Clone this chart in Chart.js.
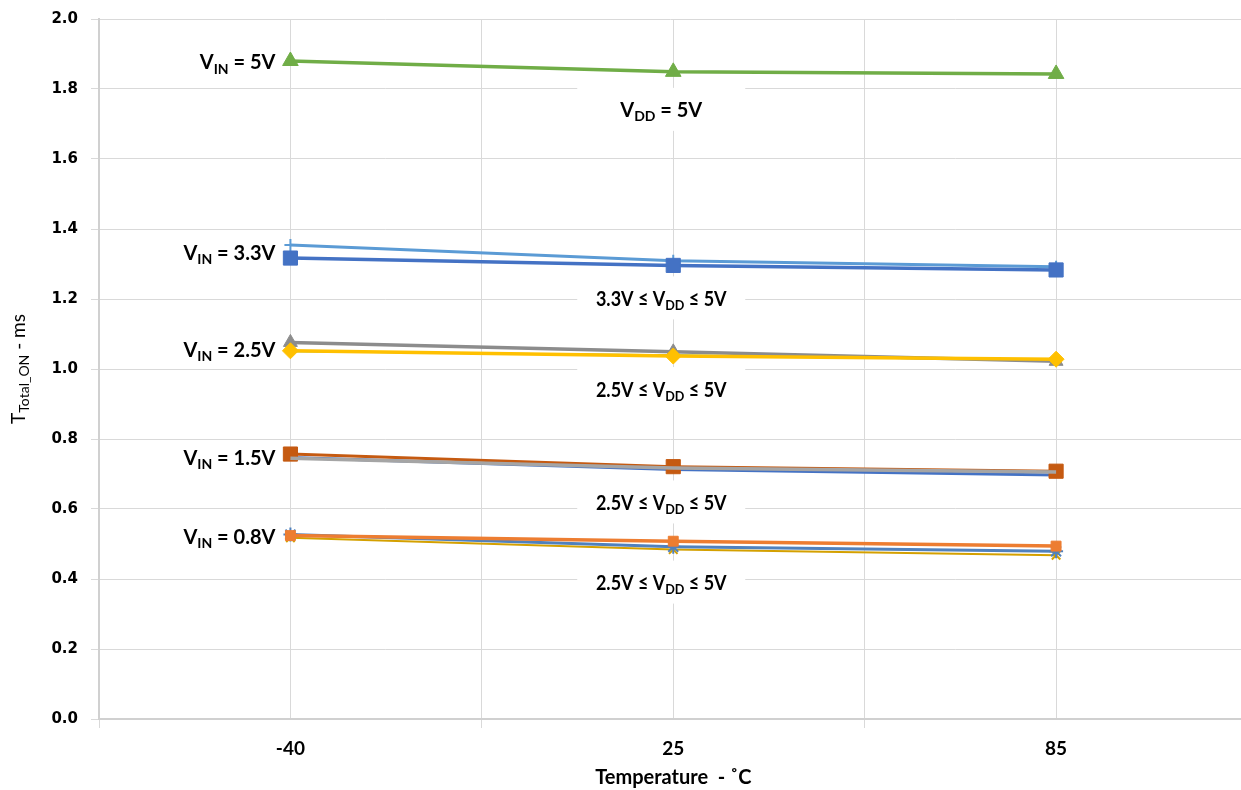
<!DOCTYPE html>
<html><head><meta charset="utf-8">
<script src="https://cdn.jsdelivr.net/npm/chart.js@4"></script>
<style>html,body{margin:0;padding:0;background:#fff}#wrap{width:1241px;height:790px;position:relative}</style>
</head><body><div id="wrap"><canvas id="c"></canvas></div>
<script>
// ---- data ----
const temps = ['-40', '25', '85'];
const yTicks = [0, 0.2, 0.4, 0.6, 0.8, 1.0, 1.2, 1.4, 1.6, 1.8, 2.0];

const vin5_vdd5   = [1.880, 1.849, 1.843];
const vin33_light = [1.354, 1.309, 1.292];
const vin33_dark  = [1.317, 1.296, 1.283];
const vin25_gray  = [1.076, 1.049, 1.022];
const vin25_yel   = [1.052, 1.037, 1.028];
const vin25_grn   = [1.050, 1.040, 1.024];
const vin15_org   = [0.757, 0.721, 0.708];
const vin15_gray  = [0.745, 0.717, 0.706];
const vin15_blue  = [0.747, 0.713, 0.697];
const vin08_org   = [0.524, 0.508, 0.494];
const vin08_blue  = [0.527, 0.492, 0.479];
const vin08_yel   = [0.518, 0.484, 0.468];

const vinLabels  = ['5V', '3.3V', '2.5V', '1.5V', '0.8V'];
const vddPrefix  = ['', '3.3V \u2264 ', '2.5V \u2264 ', '2.5V \u2264 ', '2.5V \u2264 '];
const vddSuffix  = [' = 5V', ' \u2264 5V', ' \u2264 5V', ' \u2264 5V', ' \u2264 5V'];
const groups = [
  [vin5_vdd5],
  [vin33_light, vin33_dark],
  [vin25_gray, vin25_yel, vin25_grn],
  [vin15_org, vin15_gray, vin15_blue],
  [vin08_org, vin08_blue, vin08_yel]
];

const pts = arr => arr.map((v, i) => ({x: i, y: v}));
function ds(arr, color, style, r, lw) {
  return {data: pts(arr), borderColor: color, backgroundColor: color, pointStyle: style,
    pointRadius: r, pointHoverRadius: r, borderWidth: lw,
    pointBorderWidth: (style === 'cross' || style === 'crossRot' || style === 'star') ? 2 : 1,
    tension: 0, fill: false};
}
// first dataset drawn on top
const datasets = [
  ds(vin5_vdd5, '#70AD47', 'triangle', 9, 3.5),
  ds(vin33_dark, '#4472C4', 'rect', 10, 3.5),
  ds(vin33_light, '#5B9BD5', 'cross', 6, 3),
  ds(vin25_yel, '#FFC000', 'rectRot', 8, 3.5),
  ds(vin25_gray, '#8C8C8C', 'triangle', 8, 3.5),
  ds(vin25_grn, '#70AD47', 'circle', 0, 1.5),
  ds(vin15_gray, '#A5A5A5', 'circle', 0, 3.5),
  ds(vin15_org, '#C55A11', 'rect', 10, 3),
  ds(vin15_blue, '#4472C4', 'circle', 0, 3),
  ds(vin08_org, '#ED7D31', 'rect', 7, 3.5),
  ds(vin08_blue, '#5081BD', 'star', 7, 3),
  ds(vin08_yel, '#D4A000', 'crossRot', 6, 2)
];

const FONT_LBL = 'Lato, "Open Sans", sans-serif';

function drawRich(ctx, parts, x, y, align, size, weight, sx) {
  sx = sx || 1;
  const main = weight + ' ' + size + 'px ' + FONT_LBL;
  const sub = weight + ' ' + Math.round(size * 0.72) + 'px ' + FONT_LBL;
  let w = 0;
  parts.forEach(p => { ctx.font = p.sub ? sub : main; w += ctx.measureText(p.t).width; });
  w *= sx;
  let cx = align === 'right' ? x - w : (align === 'center' ? x - w / 2 : x);
  ctx.save();
  ctx.translate(cx, y);
  ctx.scale(sx, 1);
  ctx.textBaseline = 'middle';
  ctx.textAlign = 'left';
  let px = 0;
  parts.forEach(p => {
    ctx.font = p.sub ? sub : main;
    ctx.fillText(p.t, px, p.sub ? size * 0.3 : 0);
    px += ctx.measureText(p.t).width;
  });
  ctx.restore();
}

function vddPos(chart, g, i) {
  const xs = chart.scales.x, ys = chart.scales.y;
  return {x: xs.getPixelForValue(1) - 12, y: ys.getPixelForValue(Math.min(...g.map(s => s[1]))) + (i === 0 ? 39 : 34)};
}
function vinPos(chart, g) {
  const xs = chart.scales.x, ys = chart.scales.y;
  const m = g.reduce((a, s) => a + s[0], 0) / g.length;
  return {x: xs.getPixelForValue(0) - 15, y: ys.getPixelForValue(m) + 2};
}

const annot = {
  id: 'annot',
  beforeDatasetsDraw(chart) {
    const ctx = chart.ctx;
    ctx.save();
    ctx.fillStyle = '#ffffff';
    groups.forEach((g, i) => { const p = vddPos(chart, g, i); ctx.fillRect(p.x - 84, p.y - 23, 168, 43); });
    ctx.restore();
  },
  afterDatasetsDraw(chart) {
    const ctx = chart.ctx;
    const ca = chart.chartArea;
    ctx.save();
    ctx.fillStyle = '#000000';
    groups.forEach((g, i) => {
      const a = vinPos(chart, g);
      drawRich(ctx, [{t: 'V'}, {t: 'IN', sub: true}, {t: ' = ' + vinLabels[i]}], a.x, a.y, 'right', 20, 'bold');
      const b = vddPos(chart, g, i);
      drawRich(ctx, [{t: vddPrefix[i] + 'V'}, {t: 'DD', sub: true}, {t: vddSuffix[i]}], b.x, b.y, 'center', 20, 'bold', i === 0 ? 1 : 0.9);
    });
    // x title
    drawRich(ctx, [{t: 'Temperature  - \u02DAC'}], chart.scales.x.getPixelForValue(1), 778, 'center', 20, 'bold');
    // y title
    ctx.translate(19, (ca.top + ca.bottom) / 2);
    ctx.rotate(-Math.PI / 2);
    drawRich(ctx, [{t: 'T'}, {t: 'Total_ON', sub: true}, {t: ' - ms'}], 0, 0, 'center', 19, 'normal');
    ctx.restore();
  }
};

new Chart(document.getElementById('c'), {
  type: 'line',
  data: {datasets},
  plugins: [annot],
  options: {
    responsive: true,
    maintainAspectRatio: false,
    animation: false,
    events: [],
    layout: {autoPadding: false, padding: {top: 19, right: 0, left: 0, bottom: 0}},
    plugins: {legend: {display: false}, tooltip: {enabled: false}},
    scales: {
      x: {
        type: 'linear',
        min: -0.5,
        max: 2.483,
        afterBuildTicks: s => { s.ticks = [-0.5, 0, 0.5, 1, 1.5, 2].map(v => ({value: v})); },
        afterFit: s => { s.height = 71; s.paddingLeft = 0; s.paddingRight = 0; s.paddingTop = 0; s.paddingBottom = 0; },
        grid: {color: '#d9d9d9', lineWidth: 1, tickLength: 9,
          tickColor: c => (c.tick && Number.isInteger(c.tick.value)) ? 'rgba(0,0,0,0)' : '#d9d9d9'},
        border: {color: '#d0d0d0', width: 2},
        ticks: {
          autoSkip: false, maxRotation: 0, padding: 9, color: '#000',
          font: {family: FONT_LBL, weight: 'bold', size: 19},
          callback: v => Number.isInteger(v) ? temps[v] : ''
        }
      },
      y: {
        type: 'linear',
        min: 0, max: 2,
        afterBuildTicks: s => { s.ticks = yTicks.map(v => ({value: v})); },
        afterFit: s => { s.width = 99; s.paddingLeft = 0; s.paddingRight = 0; s.paddingTop = 0; s.paddingBottom = 0; },
        grid: {color: '#d9d9d9', lineWidth: 1, tickLength: 8, tickColor: '#d9d9d9'},
        border: {color: '#d0d0d0', width: 2},
        ticks: {
          padding: 13, color: '#000',
          font: {family: 'DejaVu Sans', weight: 'bold', size: 15},
          callback: v => v.toFixed(1)
        }
      }
    }
  }
});
</script>
</body></html>
